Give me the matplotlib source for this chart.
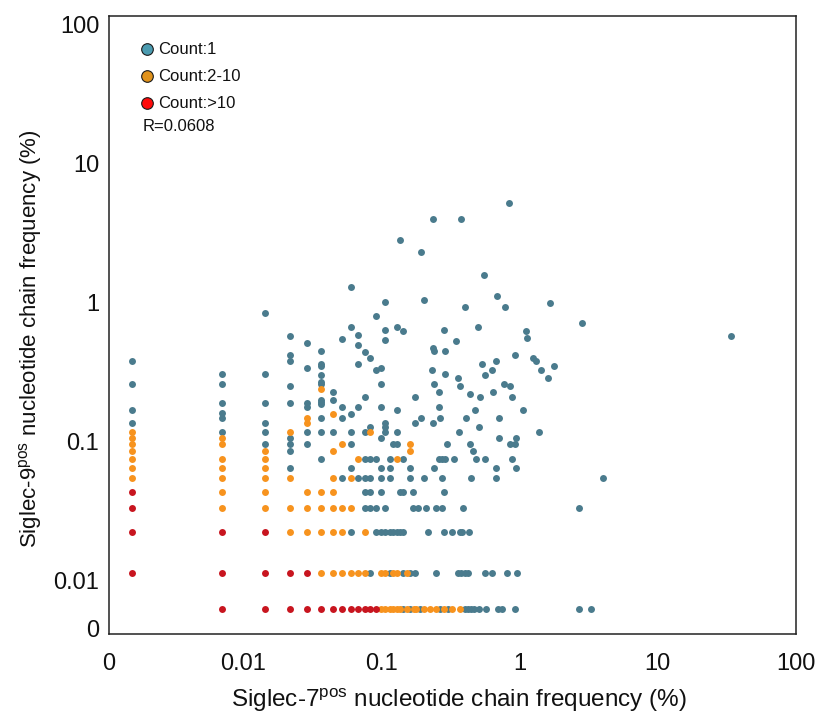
import numpy as np
import matplotlib
matplotlib.use('Agg')
import matplotlib.pyplot as plt

plt.rcParams['font.family'] = ['Liberation Sans', 'DejaVu Sans']
plt.rcParams['mathtext.default'] = 'regular'

# clone frequencies (%) in Siglec-7pos (x) and Siglec-9pos (y); 0 = absent
count_1 = [
    (0, 0.376), (0, 0.257), (0, 0.166), (0, 0.136),
    (0.00702, 0.305), (0.00702, 0.257), (0.00702, 0.187), (0.00702, 0.158), (0.00702, 0.146), (0.00702, 0.1156),
    (0.01435, 0.834), (0.01435, 0.305), (0.01435, 0.187), (0.01435, 0.136), (0.01435, 0.1156), (0.01435, 0.0951),
    (0.0218, 0.569), (0.0218, 0.416), (0.0218, 0.376), (0.0218, 0.247), (0.0218, 0.187), (0.0218, 0.1056),
    (0.0218, 0.0951), (0.0218, 0.0848), (0.0218, 0.0643),
    (0.0293, 0.505), (0.0293, 0.337), (0.0293, 0.187), (0.0293, 0.177), (0.0293, 0.1156), (0.0293, 0.0951),
    (0.0370, 0.447), (0.0370, 0.356), (0.0370, 0.344), (0.0370, 0.297), (0.0370, 0.267), (0.0370, 0.257),
    (0.0370, 0.199), (0.0370, 0.192), (0.0370, 0.185), (0.0370, 0.146), (0.0370, 0.1156), (0.0370, 0.0746),
    (0.0447, 0.226), (0.0447, 0.196), (0.0447, 0.1156),
    (0.0525, 0.542), (0.0525, 0.177), (0.0525, 0.146), (0.0525, 0.0539),
    (0.0602, 1.289), (0.0602, 0.658), (0.0602, 0.156), (0.0602, 0.1156), (0.0602, 0.0951), (0.0602, 0.0643), (0.0602, 0.0221),
    (0.0676, 0.582), (0.0676, 0.493), (0.0676, 0.356), (0.0676, 0.177), (0.0676, 0.0539),
    (0.0760, 0.435), (0.0760, 0.207), (0.0760, 0.1156), (0.0760, 0.0746), (0.0760, 0.0539), (0.0760, 0.0432), (0.0760, 0.0328),
    (0.0836, 0.396), (0.0836, 0.127), (0.0836, 0.0746), (0.0836, 0.0539), (0.0836, 0.0432), (0.0836, 0.0328), (0.0836, 0.0113),
    (0.0912, 0.793), (0.0912, 0.326), (0.0912, 0.0746), (0.0912, 0.0328), (0.0912, 0.0221),
    (0.0991, 0.337), (0.0991, 0.257), (0.0991, 0.177), (0.0991, 0.1056), (0.0991, 0.0643), (0.0991, 0.0539),
    (0.0991, 0.0432), (0.0991, 0.0221),
    (0.107, 0.995), (0.107, 0.629), (0.107, 0.533), (0.107, 0.136), (0.107, 0.127), (0.107, 0.1156),
    (0.107, 0.0328), (0.107, 0.0221),
    (0.115, 0.0746), (0.115, 0.0643), (0.115, 0.0539), (0.115, 0.0221), (0.115, 0.0113),
    (0.121, 0.0951), (0.122, 0.0221),
    (0.1305, 0.658), (0.1305, 0.167), (0.1305, 0.1156), (0.1305, 0.0951), (0.1305, 0.0221),
    (0.138, 2.79), (0.138, 0.0432), (0.138, 0.0221),
    (0.145, 0.618), (0.145, 0.0746), (0.145, 0.0432), (0.145, 0.0221), (0.145, 0.0113), (0.145, 0),
    (0.162, 0.0643), (0.162, 0.0539), (0.163, 0.0113), (0.163, 0),
    (0.170, 0.0432), (0.170, 0.0328),
    (0.177, 0.207), (0.177, 0.136), (0.177, 0.0113),
    (0.185, 0.0328), (0.192, 0), (0.195, 2.29), (0.195, 0.147),
    (0.203, 1.042), (0.203, 0.0539), (0.210, 0.0328), (0.218, 0.0221),
    (0.234, 0.326), (0.2355, 3.97), (0.2355, 0.465), (0.2355, 0.136),
    (0.2405, 0.444), (0.2405, 0.257), (0.2405, 0.0643),
    (0.250, 0.0328), (0.250, 0.0113),
    (0.260, 0.226), (0.260, 0.177), (0.260, 0.0746),
    (0.2675, 0.147), (0.2675, 0),
    (0.2765, 0.0746), (0.2765, 0.0539), (0.2765, 0.0328),
    (0.2826, 0.629), (0.2826, 0.0432), (0.2826, 0.0221),
    (0.291, 0.444), (0.291, 0.305), (0.291, 0.0746),
    (0.301, 0.0951), (0.302, 0), (0.3245, 0.0221), (0.334, 0.0746), (0.349, 0.522),
    (0.359, 0.285), (0.359, 0.0113), (0.367, 0.1156), (0.369, 0.247), (0.369, 0.0221),
    (0.379, 0.0113), (0.381, 3.97), (0.383, 0.0221), (0.394, 0.0328), (0.401, 0.0113),
    (0.406, 0.921), (0.406, 0), (0.414, 0.146), (0.424, 0.0113), (0.424, 0), (0.431, 0.0221),
    (0.436, 0.217), (0.436, 0.0951), (0.448, 0.0539), (0.448, 0), (0.463, 0.0848), (0.473, 0),
    (0.481, 0.167), (0.487, 0.0746), (0.498, 0.658), (0.506, 0.126), (0.514, 0), (0.517, 0.207),
    (0.538, 0.356), (0.550, 1.564), (0.565, 0.297), (0.565, 0.0746), (0.568, 0.0113), (0.575, 0),
    (0.631, 0.0113), (0.635, 0.326), (0.646, 0.226),
    (0.679, 0.376), (0.679, 0.0643), (0.679, 0.0539), (0.686, 1.099),
    (0.705, 0), (0.713, 0.146), (0.717, 0.1056), (0.745, 0),
    (0.779, 0.257), (0.788, 0.921), (0.815, 0.0113), (0.838, 5.15),
    (0.848, 0.247), (0.848, 0.0951), (0.880, 0.0746), (0.890, 0.207),
    (0.936, 0.414), (0.936, 0.0951), (0.936, 0), (0.947, 0.1056), (0.947, 0.0643), (0.956, 0.0113),
    (1.069, 0.167), (1.114, 0.618), (1.142, 0.553), (1.248, 0.396), (1.320, 0.376),
    (1.388, 0.1156), (1.442, 0.326), (1.611, 0.285), (1.666, 0.979), (1.790, 0.346),
    (2.71, 0.0328), (2.71, 0), (2.84, 0.710), (3.29, 0), (3.99, 0.0539), (34.1, 0.569),
]

count_2_10 = [
    (0, 0.1156), (0, 0.1056), (0, 0.0951), (0, 0.0848), (0, 0.0746), (0, 0.0643), (0, 0.0539),
    (0.00702, 0.1056), (0.00702, 0.0951), (0.00702, 0.0746), (0.00702, 0.0643), (0.00702, 0.0539),
    (0.00702, 0.0432), (0.00702, 0.0328),
    (0.01435, 0.0848), (0.01435, 0.0746), (0.01435, 0.0643), (0.01435, 0.0539), (0.01435, 0.0432), (0.01435, 0.0328),
    (0.0218, 0.1156), (0.0218, 0.0539), (0.0218, 0.0328), (0.0218, 0.0221),
    (0.0293, 0.147), (0.0293, 0.136), (0.0293, 0.0432), (0.0293, 0.0328), (0.0293, 0.0221),
    (0.0370, 0.237), (0.0370, 0.0432), (0.0370, 0.0328), (0.0370, 0.0221), (0.0370, 0.0113),
    (0.0447, 0.156), (0.0447, 0.0848), (0.0447, 0.0539), (0.0447, 0.0432), (0.0447, 0.0328),
    (0.0447, 0.0221), (0.0447, 0.0113),
    (0.0525, 0.0951), (0.0525, 0.0328), (0.0525, 0.0221), (0.0525, 0.0113),
    (0.0602, 0.0539), (0.0602, 0.0328), (0.0602, 0.0113),
    (0.0676, 0.0746), (0.0676, 0.0113), (0.0760, 0.0221), (0.0760, 0.0113), (0.0836, 0.1156),
    (0.0991, 0.0113), (0.0991, 0), (0.107, 0.0113), (0.107, 0), (0.115, 0),
    (0.1217, 0.0113), (0.1217, 0), (0.1305, 0.0746), (0.1305, 0.0113), (0.1305, 0), (0.138, 0),
    (0.1545, 0.0113), (0.1545, 0), (0.162, 0.0951), (0.162, 0.0848),
    (0.1726, 0), (0.180, 0), (0.203, 0), (0.2265, 0), (0.250, 0), (0.2826, 0), (0.3245, 0), (0.369, 0),
]

count_over_10 = [
    (0, 0.0432), (0, 0.0328), (0, 0.0221), (0, 0.0113),
    (0.00702, 0.0221), (0.00702, 0.0113), (0.00702, 0),
    (0.01435, 0.0221), (0.01435, 0.0113), (0.01435, 0),
    (0.0218, 0.0113), (0.0218, 0), (0.0293, 0.0113), (0.0293, 0),
    (0.0370, 0), (0.0447, 0), (0.0525, 0), (0.0602, 0), (0.0676, 0), (0.0760, 0), (0.0836, 0), (0.0912, 0),
]

r_value = 0.0608
tick_values = [0.01, 0.1, 1, 10, 100]
tick_labels = ['0.01', '0.1', '1', '10', '100']

# where a zero frequency is drawn, in decades
X_ZERO = -2.80
Y_ZERO = -2.21


def zero_log_scale(zero):
    def fwd(v):
        v = np.asarray(v, dtype=float)
        return np.where(v > 0, np.log10(np.where(v > 0, v, 1.0)), zero)

    def inv(t):
        return np.power(10.0, t)
    return fwd, inv


fig = plt.figure(figsize=(8.25, 7.19), dpi=100)
ax = fig.add_axes([109 / 825, 1 - 634 / 719, 687 / 825, 618 / 719])
ax.set_xscale('function', functions=zero_log_scale(X_ZERO))
ax.set_yscale('function', functions=zero_log_scale(Y_ZERO))

groups = [
    (count_1, '#4a7b8d'),
    (count_2_10, '#f7931e'),
    (count_over_10, '#c8151f'),
]
for pts, col in groups:
    arr = np.array(pts)
    ax.scatter(arr[:, 0], arr[:, 1], s=25, c=col, linewidths=0, zorder=3)

x_left = 10 ** -2.968
ax.set_xlim(x_left, 100)
ax.set_ylim(10 ** -2.388, 10 ** 2.058)
ax.set_xticks([x_left] + tick_values, ['0'] + tick_labels)
ax.set_yticks([10 ** -2.345] + tick_values, ['0'] + tick_labels)
ax.minorticks_off()
ax.tick_params(length=0, labelsize=17, colors='#111111')
ax.tick_params(axis='x', pad=14)
ax.tick_params(axis='y', pad=7)
for sp in ax.spines.values():
    sp.set_linewidth(1.1)
    sp.set_color('#222222')

fig.text(459 / 825, 1 - 700 / 719, r'Siglec-7$^{pos}$ nucleotide chain frequency (%)',
         ha='center', va='center', fontsize=17.5, color='#111111')
fig.text(31 / 825, 1 - 339 / 719, r'Siglec-9$^{pos}$ nucleotide chain frequency (%)',
         ha='center', va='center', rotation=90, fontsize=16, color='#111111')

# legend
legend_items = [('Count:1', '#4b9bb0'), ('Count:2-10', '#e0921c'), ('Count:>10', '#ff0a0a')]
for i, (lab, col) in enumerate(legend_items):
    yy = 0.9466 - i * 0.0437
    ax.scatter([0.0553], [yy], s=70, c=col, edgecolors='#1a1a1a', linewidths=0.8,
               transform=ax.transAxes, clip_on=False, zorder=4)
    ax.text(0.0713, yy, lab, transform=ax.transAxes, ha='left', va='center', fontsize=12, color='#111111')
ax.text(0.0495, 0.8204, 'R=%.4f' % r_value, transform=ax.transAxes, ha='left', va='center',
        fontsize=12, color='#111111')

fig.savefig('out.png', dpi=100)
